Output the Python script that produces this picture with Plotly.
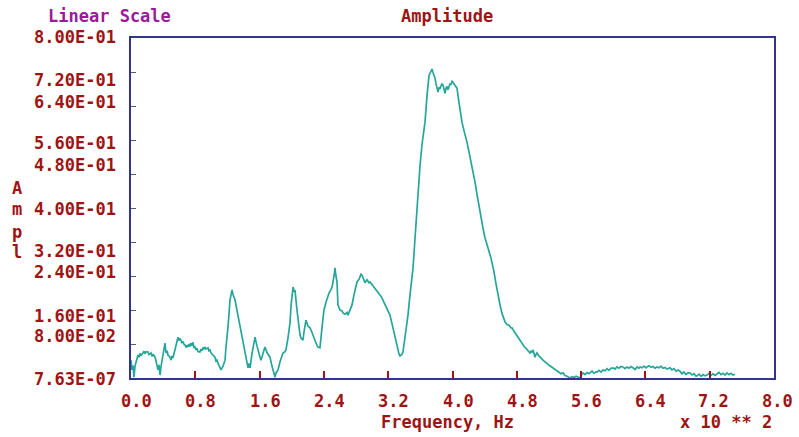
import plotly.graph_objects as go

# ---- data (frequency in units of x 10**2 Hz, amplitude linear) ----
freq = [0.000, 0.012, 0.025, 0.037, 0.050, 0.062, 0.075, 0.087, 0.100, 0.112,
        0.124, 0.149, 0.162, 0.174, 0.187, 0.212, 0.224, 0.249, 0.262, 0.274,
        0.299, 0.311, 0.324, 0.336, 0.348, 0.361, 0.373, 0.398, 0.411, 0.423,
        0.435, 0.448, 0.460, 0.485, 0.498, 0.510, 0.522, 0.547, 0.560, 0.572,
        0.585, 0.597, 0.610, 0.622, 0.635, 0.647, 0.660, 0.672, 0.684, 0.697,
        0.709, 0.722, 0.734, 0.746, 0.759, 0.771, 0.784, 0.796, 0.809, 0.821,
        0.833, 0.858, 0.870, 0.883, 0.896, 0.908, 0.921, 0.933, 0.958, 0.970,
        0.983, 0.995, 1.020, 1.045, 1.057, 1.070, 1.082, 1.095, 1.107, 1.120,
        1.145, 1.170, 1.182, 1.195, 1.207, 1.232, 1.257, 1.270, 1.294, 1.320,
        1.345, 1.369, 1.395, 1.420, 1.431, 1.456, 1.469, 1.481, 1.506, 1.531,
        1.543, 1.568, 1.593, 1.605, 1.617, 1.642, 1.667, 1.692, 1.717, 1.729,
        1.754, 1.779, 1.792, 1.804, 1.829, 1.854, 1.879, 1.891, 1.916, 1.928,
        1.953, 1.978, 1.991, 2.016, 2.028, 2.040, 2.065, 2.090, 2.103, 2.115,
        2.140, 2.152, 2.177, 2.202, 2.227, 2.240, 2.265, 2.290, 2.315, 2.327,
        2.351, 2.376, 2.401, 2.426, 2.439, 2.464, 2.489, 2.501, 2.526, 2.538,
        2.550, 2.563, 2.575, 2.600, 2.625, 2.638, 2.663, 2.688, 2.700, 2.725,
        2.750, 2.775, 2.800, 2.812, 2.837, 2.862, 2.874, 2.899, 2.911, 2.936,
        2.961, 2.974, 2.999, 3.024, 3.036, 3.061, 3.086, 3.111, 3.123, 3.148,
        3.173, 3.198, 3.222, 3.247, 3.272, 3.285, 3.310, 3.335, 3.347, 3.372,
        3.384, 3.409, 3.434, 3.446, 3.471, 3.496, 3.509, 3.534, 3.559, 3.571,
        3.596, 3.621, 3.646, 3.658, 3.683, 3.695, 3.708, 3.733, 3.745, 3.758,
        3.770, 3.782, 3.795, 3.807, 3.820, 3.832, 3.845, 3.857, 3.870, 3.882,
        3.895, 3.907, 3.920, 3.932, 3.944, 3.957, 3.969, 3.981, 3.994, 4.006,
        4.031, 4.056, 4.081, 4.106, 4.118, 4.143, 4.168, 4.180, 4.205, 4.230,
        4.255, 4.280, 4.305, 4.330, 4.354, 4.379, 4.404, 4.429, 4.454, 4.479,
        4.491, 4.516, 4.541, 4.566, 4.591, 4.616, 4.641, 4.653, 4.678, 4.703,
        4.728, 4.740, 4.765, 4.790, 4.815, 4.840, 4.865, 4.890, 4.915, 4.940,
        4.964, 4.977, 4.989, 5.002, 5.014, 5.026, 5.039, 5.051, 5.076, 5.101,
        5.126, 5.151, 5.176, 5.201, 5.225, 5.250, 5.275, 5.300, 5.325, 5.350,
        5.375, 5.400, 5.425, 5.450, 5.462, 5.487, 5.512, 5.537, 5.561, 5.586,
        5.611, 5.624, 5.649, 5.674, 5.699, 5.711, 5.736, 5.761, 5.786, 5.798,
        5.823, 5.848, 5.873, 5.898, 5.922, 5.947, 5.972, 5.997, 6.022, 6.047,
        6.072, 6.097, 6.121, 6.146, 6.171, 6.196, 6.221, 6.246, 6.271, 6.296,
        6.321, 6.333, 6.358, 6.383, 6.408, 6.420, 6.445, 6.470, 6.495, 6.520,
        6.544, 6.569, 6.594, 6.619, 6.644, 6.669, 6.694, 6.706, 6.731, 6.756,
        6.781, 6.806, 6.830, 6.855, 6.880, 6.905, 6.930, 6.955, 6.980, 7.005,
        7.030, 7.042, 7.067, 7.092, 7.117, 7.142, 7.166, 7.191, 7.216, 7.241,
        7.266, 7.291, 7.316, 7.341, 7.366, 7.391, 7.415, 7.440, 7.465, 7.490,
        7.515]
ampl = [0.042, 0.019, 0.030, 0.002, 0.028, 0.036, 0.044, 0.054, 0.049, 0.058,
        0.052, 0.059, 0.063, 0.057, 0.062, 0.061, 0.055, 0.059, 0.051, 0.056,
        0.049, 0.040, 0.028, 0.019, 0.031, 0.007, 0.026, 0.052, 0.066, 0.082,
        0.059, 0.064, 0.054, 0.049, 0.042, 0.052, 0.047, 0.066, 0.075, 0.090,
        0.096, 0.088, 0.092, 0.089, 0.082, 0.086, 0.079, 0.078, 0.072, 0.077,
        0.073, 0.080, 0.074, 0.082, 0.076, 0.084, 0.071, 0.073, 0.066, 0.070,
        0.062, 0.061, 0.068, 0.064, 0.072, 0.069, 0.073, 0.068, 0.071, 0.064,
        0.066, 0.059, 0.054, 0.049, 0.040, 0.042, 0.035, 0.028, 0.024, 0.019,
        0.028, 0.042, 0.073, 0.096, 0.120, 0.184, 0.207, 0.196, 0.184, 0.158,
        0.134, 0.113, 0.082, 0.058, 0.049, 0.024, 0.034, 0.024, 0.058, 0.082,
        0.096, 0.075, 0.052, 0.049, 0.042, 0.061, 0.073, 0.060, 0.054, 0.049,
        0.028, 0.008, 0.002, 0.012, 0.019, 0.038, 0.052, 0.059, 0.062, 0.066,
        0.094, 0.129, 0.170, 0.214, 0.205, 0.207, 0.160, 0.118, 0.101, 0.094,
        0.089, 0.108, 0.136, 0.122, 0.118, 0.113, 0.100, 0.084, 0.076, 0.073,
        0.071, 0.118, 0.160, 0.178, 0.188, 0.200, 0.208, 0.214, 0.240, 0.259,
        0.240, 0.226, 0.172, 0.160, 0.158, 0.153, 0.150, 0.154, 0.148, 0.158,
        0.172, 0.196, 0.218, 0.226, 0.232, 0.244, 0.242, 0.230, 0.224, 0.231,
        0.224, 0.226, 0.220, 0.214, 0.212, 0.205, 0.198, 0.192, 0.188, 0.178,
        0.168, 0.160, 0.148, 0.128, 0.106, 0.094, 0.072, 0.056, 0.052, 0.056,
        0.061, 0.095, 0.125, 0.148, 0.195, 0.236, 0.259, 0.330, 0.410, 0.447,
        0.500, 0.550, 0.590, 0.602, 0.665, 0.696, 0.712, 0.722, 0.727, 0.718,
        0.712, 0.706, 0.692, 0.678, 0.673, 0.684, 0.680, 0.688, 0.692, 0.689,
        0.676, 0.670, 0.682, 0.686, 0.678, 0.688, 0.693, 0.690, 0.698, 0.696,
        0.690, 0.682, 0.648, 0.615, 0.602, 0.582, 0.566, 0.555, 0.532, 0.510,
        0.488, 0.461, 0.432, 0.402, 0.378, 0.353, 0.330, 0.316, 0.298, 0.282,
        0.273, 0.250, 0.222, 0.195, 0.172, 0.152, 0.138, 0.132, 0.126, 0.124,
        0.118, 0.118, 0.110, 0.102, 0.096, 0.089, 0.082, 0.074, 0.070, 0.064,
        0.059, 0.063, 0.061, 0.066, 0.058, 0.049, 0.055, 0.059, 0.052, 0.046,
        0.042, 0.038, 0.033, 0.030, 0.027, 0.024, 0.019, 0.016, 0.014, 0.010,
        0.012, 0.006, 0.004, 0.002, 0.000, 0.003, 0.001, 0.004, 0.002, 0.000,
        0.009, 0.012, 0.008, 0.013, 0.010, 0.012, 0.016, 0.011, 0.015, 0.014,
        0.018, 0.014, 0.019, 0.017, 0.022, 0.018, 0.023, 0.024, 0.021, 0.026,
        0.023, 0.027, 0.026, 0.022, 0.026, 0.023, 0.027, 0.024, 0.020, 0.026,
        0.023, 0.026, 0.024, 0.028, 0.024, 0.026, 0.029, 0.025, 0.027, 0.023,
        0.026, 0.024, 0.028, 0.023, 0.025, 0.021, 0.024, 0.024, 0.019, 0.022,
        0.016, 0.019, 0.016, 0.010, 0.014, 0.008, 0.012, 0.012, 0.007, 0.010,
        0.004, 0.005, 0.009, 0.004, 0.008, 0.005, 0.007, 0.011, 0.006, 0.010,
        0.006, 0.009, 0.013, 0.008, 0.011, 0.007, 0.012, 0.008, 0.011, 0.007,
        0.009]

y_tick_labels = ["8.00E-01", "7.20E-01", "6.40E-01", "5.60E-01", "4.80E-01",
                 "4.00E-01", "3.20E-01", "2.40E-01", "1.60E-01", "8.00E-02",
                 "7.63E-07"]
x_tick_labels = ["0.0", "0.8", "1.6", "2.4", "3.2", "4.0", "4.8", "5.6",
                 "6.4", "7.2", "8.0"]

# ---- layout geometry (pixels) ----
W, H = 799, 437
L, R, T, B = 131, 774, 38, 378
ylab_px = [37, 80, 102, 143, 165, 209, 251, 272, 316, 336, 379]
xlab_px = [136, 200, 265, 329, 393, 458, 522, 586, 650, 713, 777]

def px(xp, yp):
    return (xp - L) / (R - L), (B - yp) / (B - T)

RED = "#9e1414"
NAVY = "#33338a"
TEAL = "#26a69a"
FONT = "DejaVu Sans Mono"

fig = go.Figure()
fig.add_trace(go.Scatter(x=freq, y=ampl, mode="lines",
                         line=dict(color=TEAL, width=1.7), hoverinfo="skip"))

ann = []

def txt(s, xp, yp, color=RED, anchor="center"):
    x0, y0 = px(xp, yp)
    ann.append(dict(x=x0, y=y0, xref="paper", yref="paper", text=s,
                    showarrow=False, xanchor=anchor, yanchor="middle",
                    font=dict(family=FONT, size=17, color=color, weight="bold")))

for t, yp in zip(y_tick_labels, ylab_px):
    txt(t, 118, yp, anchor="right")
for t, xp in zip(x_tick_labels, xlab_px):
    txt(t, xp, 401)

txt("Linear Scale", 109, 16, color="#9a1a9a")
txt("Amplitude", 447, 16)
txt("Frequency, Hz", 447, 422)
txt("x 10 ** 2", 726, 422)
for ch, yp in zip(["A", "m", "p", "l"], [188, 209, 232, 252]):
    txt(ch, 17, yp)

fig.update_layout(
    width=W, height=H,
    margin=dict(l=L, r=W - R, t=T, b=H - B),
    plot_bgcolor="white", paper_bgcolor="white",
    showlegend=False,
    annotations=ann,
    xaxis=dict(range=[0, 8], tick0=0, dtick=0.8, ticks="inside", ticklen=7,
               tickcolor=RED, tickwidth=1.5, showticklabels=False,
               showgrid=False, zeroline=False, showline=True,
               linecolor=NAVY, linewidth=1.5, mirror=True),
    yaxis=dict(range=[0, 0.8], tick0=0, dtick=0.08, ticks="inside", ticklen=5,
               tickcolor="#555577", tickwidth=1, showticklabels=False,
               showgrid=False, zeroline=False, showline=True,
               linecolor=NAVY, linewidth=1.5, mirror=True),
)

fig.write_html("out.html", config={"displayModeBar": False},
               post_script="document.body.style.margin='0px';")
